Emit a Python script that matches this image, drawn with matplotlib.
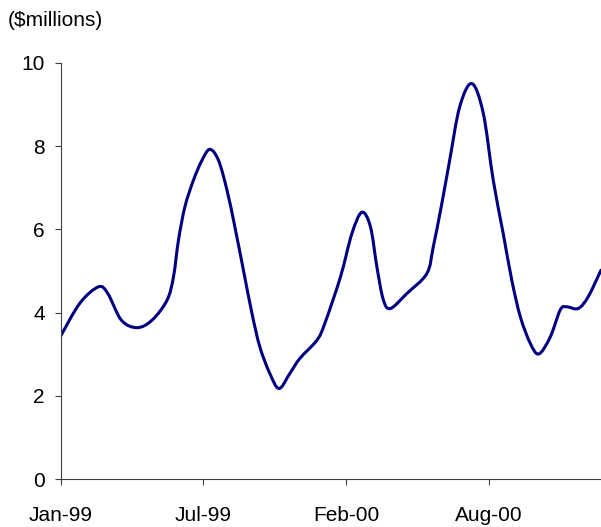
import numpy as np
import matplotlib
matplotlib.use("Agg")
import matplotlib.pyplot as plt
import matplotlib.dates as mdates
from matplotlib.path import Path
from matplotlib.patches import PathPatch

plt.rcParams['font.family'] = ['Liberation Sans', 'DejaVu Sans']

# sampled revenue, $ millions
dates = ['1999-01-01', '1999-01-28', '1999-02-23', '1999-03-08', '1999-03-27',
         '1999-04-18', '1999-05-09', '1999-05-30', '1999-06-08', '1999-06-15',
         '1999-06-24', '1999-07-06', '1999-07-18', '1999-07-29', '1999-08-10',
         '1999-08-22', '1999-09-02', '1999-09-14', '1999-09-26', '1999-10-07',
         '1999-10-21', '1999-11-03', '1999-11-18', '1999-12-02', '1999-12-26',
         '2000-01-06', '2000-01-28', '2000-02-13', '2000-02-27', '2000-03-10',
         '2000-03-19', '2000-03-28', '2000-04-07', '2000-04-30', '2000-05-28',
         '2000-06-06', '2000-06-18', '2000-06-29', '2000-07-13', '2000-07-30',
         '2000-08-15', '2000-08-29', '2000-09-12', '2000-09-24', '2000-10-06',
         '2000-10-20', '2000-11-01', '2000-11-17', '2000-12-01', '2000-12-10',
         '2000-12-26', '2001-01-09', '2001-01-27']
values = [3.44, 4.23, 4.62, 4.46, 3.82,
          3.64, 3.82, 4.30, 4.86, 5.74,
          6.54, 7.18, 7.66, 7.92, 7.66,
          6.94, 6.06, 5.02, 3.98, 3.18,
          2.54, 2.18, 2.54, 2.90, 3.34,
          3.74, 4.86, 5.90, 6.41, 6.06,
          5.10, 4.31, 4.10, 4.46, 4.94,
          5.58, 6.62, 7.66, 8.94, 9.50,
          8.79, 7.18, 5.90, 4.78, 3.90,
          3.26, 3.01, 3.42, 4.07, 4.14,
          4.10, 4.38, 5.02]

tick_dates = ['1999-01-01', '1999-07-20', '2000-02-05', '2000-08-23']
y_ticks = [0, 2, 4, 6, 8, 10]


def smooth_path(x, y):
    # spreadsheet-style smoothed line: cubic bezier through every point
    pts = np.column_stack([x, y])
    n = len(pts)
    verts = [pts[0]]
    codes = [Path.MOVETO]
    for i in range(n - 1):
        p0 = pts[i - 1] if i > 0 else pts[i]
        p1 = pts[i]
        p2 = pts[i + 1]
        p3 = pts[i + 2] if i + 2 < n else pts[i + 1]
        c1 = p1 + (p2 - p0) / 6.0
        c2 = p2 - (p3 - p1) / 6.0
        verts += [c1, c2, p2]
        codes += [Path.CURVE4] * 3
    return Path(verts, codes)


x = mdates.date2num(np.array(dates, dtype='datetime64[D]'))
y = np.array(values)

fig = plt.figure(figsize=(6.01, 5.27), dpi=100)
ax = fig.add_axes([60.7 / 601, (527 - 479.3) / 527, (601 - 60.7) / 601, (479.3 - 62.7) / 527])

ax.add_patch(PathPatch(smooth_path(x, y), fill=False, edgecolor='#000080',
                       lw=2.2, capstyle='round', joinstyle='round'))

ax.set_xlim(mdates.date2num(np.datetime64('1999-01-01')),
            mdates.date2num(np.datetime64('2001-01-27')))
ax.set_ylim(0, 10)

ax.set_xticks(mdates.date2num(np.array(tick_dates, dtype='datetime64[D]')))
ax.xaxis.set_major_formatter(mdates.DateFormatter('%b-%y'))
ax.set_yticks(y_ticks)

for s in ['top', 'right']:
    ax.spines[s].set_visible(False)
for s in ['left', 'bottom']:
    ax.spines[s].set_color('#404040')
    ax.spines[s].set_linewidth(0.8)

ax.tick_params(axis='both', colors='#404040', labelcolor='black', labelsize=15,
               length=4.5, width=0.8)
ax.tick_params(axis='x', pad=15)
ax.tick_params(axis='y', pad=7)

fig.text(8 / 601, 1 - 21 / 527, '(\\$millions)', fontsize=15, va='center', ha='left')

fig.savefig('out.png', dpi=100)
